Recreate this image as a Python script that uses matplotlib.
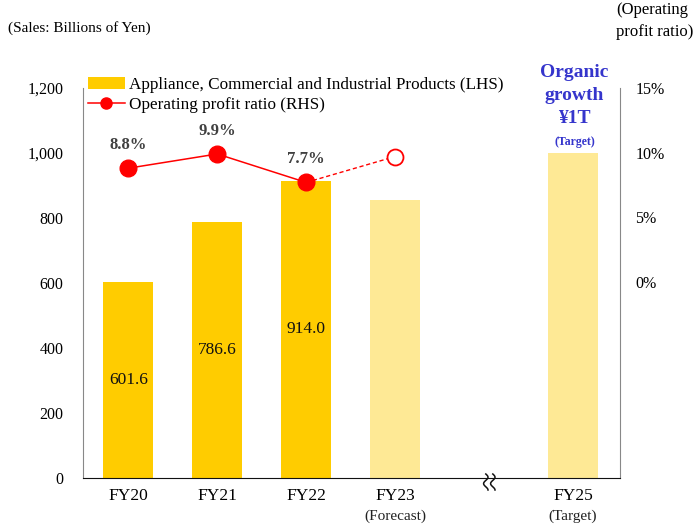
import matplotlib
matplotlib.use("Agg")
import numpy as np
import matplotlib.pyplot as plt
from matplotlib.lines import Line2D
from matplotlib.patches import Patch
from matplotlib.transforms import IdentityTransform

plt.rcParams['font.family'] = ['Liberation Serif', 'DejaVu Serif']

categories = ["FY20", "FY21", "FY22", "FY23", "FY25"]
sublabels = ["", "", "", "(Forecast)", "(Target)"]
positions = [0, 1, 2, 3, 5]
sales = [601.6, 786.6, 914.0, 855.0, 1000.0]
bar_labels = ["601.6", "786.6", "914.0", "", ""]
actual_flags = [True, True, True, False, False]
margin = [8.8, 9.9, 7.7, 9.7]
margin_labels = ["8.8%", "9.9%", "7.7%", ""]
left_ticks = [0, 200, 400, 600, 800, 1000, 1200]
right_ticks = [0, 5, 10, 15]

DARK = "#FFCC00"
LIGHT = "#FEE995"
RED = "#FF0000"
BLUE = "#3535CC"

W, H = 693, 527
fig = plt.figure(figsize=(W/100, H/100), dpi=100)
ax = fig.add_axes([83/W, 1-478/H, (620-83)/W, (478-88)/H])
ax.set_xlim(-0.51, 5.53)
ax.set_ylim(0, 1200)

colors = [DARK if a else LIGHT for a in actual_flags]
ax.bar(positions, sales, width=0.56, color=colors, zorder=2)
for p, v, lab in zip(positions, sales, bar_labels):
    if lab:
        ax.text(p, v/2, lab, ha="center", va="center", fontsize=12.5, color="#111111", zorder=3)

ax.set_yticks(left_ticks)
ax.set_yticklabels([f"{t:,}" for t in left_ticks], fontsize=11.5)
ax.set_xticks(positions)
ax.set_xticklabels(categories, fontsize=12.5)
ax.tick_params(axis="x", length=0, pad=7)
ax.tick_params(axis="y", length=0, pad=14)
for p, s in zip(positions, sublabels):
    if s:
        ax.text(p, -0.082, s, transform=ax.get_xaxis_transform(), ha="center", va="top",
                fontsize=11, color="#222222")

ax.spines["top"].set_visible(False)
ax.spines["left"].set_color("#888888")
ax.spines["right"].set_color("#888888")
ax.spines["bottom"].set_color("#111111")

ax2 = ax.twinx()
ax2.set_ylim(-15.15, 15)
ax2.set_yticks(right_ticks)
ax2.set_yticklabels([f"{t}%" for t in right_ticks], fontsize=11.5)
ax2.tick_params(axis="y", length=0, pad=11)
for s in ["top", "left", "bottom", "right"]:
    ax2.spines[s].set_visible(False)

ax2.plot(positions[:3], margin[:3], color=RED, lw=1.1, marker="o", ms=12, zorder=4)
ax2.plot(positions[2:4], margin[2:4], color=RED, lw=1.0, ls=(0, (3, 2)), zorder=3)
ax2.plot([positions[3]], [margin[3]], marker="o", ms=11.5, mfc="white", mec=RED, mew=1.3, ls="none", zorder=4)
for p, m, lab in zip(positions, margin, margin_labels):
    if lab:
        ax2.annotate(lab, (p, m), xytext=(0, 11), textcoords="offset points", ha="center", va="bottom",
                     fontsize=12, fontweight="bold", color="#404040")

# Target annotation
xt = ax.get_xaxis_transform()
for txt, yf in [("Organic", 1.041), ("growth", 0.982), ("¥1T", 0.923)]:
    ax2.text(5.02, yf, txt, transform=xt, ha="center", va="center",
             fontsize=14, fontweight="bold", color=BLUE, clip_on=False)
ax2.text(5.02, 0.862, "(Target)", transform=xt, ha="center", va="center",
         fontsize=8.5, fontweight="bold", color=BLUE, clip_on=False)

# Break mark (two small wavy strokes on the baseline)
bx, by = ax.transData.transform((4.06, 0))
t = np.linspace(0, 1, 60)
for dx in (-3.5, 3.5):
    xs = bx + dx + 2.2 * np.sin(t * 2 * np.pi * 1.25)
    ys = by + 4 - 16 * t
    fig.add_artist(Line2D(xs, ys, transform=IdentityTransform(), color="#111111", lw=1.1))

handles = [Patch(facecolor=DARK, edgecolor="none"),
           Line2D([0], [0], color=RED, lw=1.1, marker="o", ms=8)]
ax.legend(handles, ["Appliance, Commercial and Industrial Products (LHS)", "Operating profit ratio (RHS)"],
          loc="upper left", bbox_to_anchor=(-0.004, 1.046), frameon=False, fontsize=12.3,
          handlelength=2.2, handletextpad=0.2, labelspacing=0.22, borderaxespad=0, borderpad=0.4)

fig.text(8/W, 1-28/H, "(Sales: Billions of Yen)", fontsize=11, va="center", ha="left")
fig.text(616/W, 1-10/H, "(Operating", fontsize=12, va="center", ha="left")
fig.text(616/W, 1-32/H, "profit ratio)", fontsize=12, va="center", ha="left")

fig.savefig("out.png", dpi=100)
